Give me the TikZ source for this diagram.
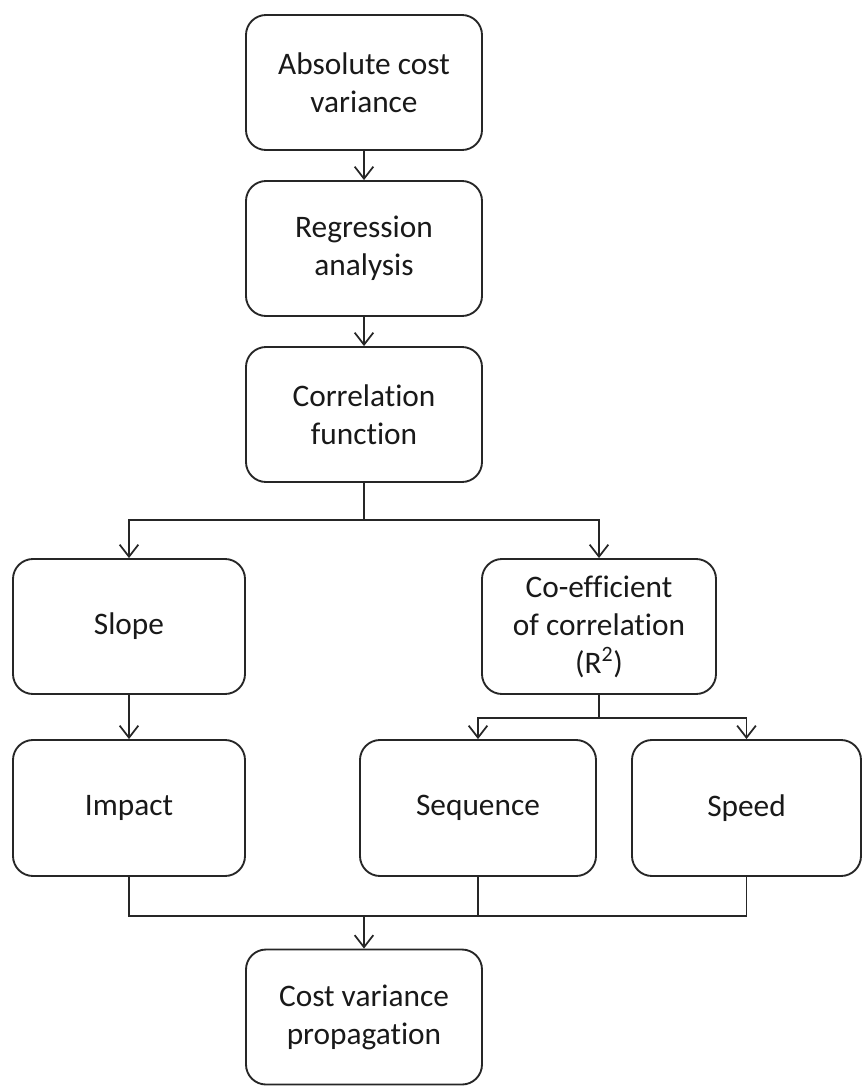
\documentclass[tikz,border=0pt]{standalone}
\usepackage{fontspec}
\setmainfont[Ligatures={NoCommon,NoContextual}]{Carlito}
\usetikzlibrary{arrows.meta}
\begin{document}
\begin{tikzpicture}[x=0.75pt,y=-0.75pt,
  box/.style={draw=black!85,line width=1.4pt,rounded corners=15pt,inner sep=0pt,
    align=center,text=black!90,font=\fontsize{23.5pt}{28.5pt}\selectfont},
  line/.style={draw=black!85,line width=1.4pt},
  arr/.style={line,-{Straight Barb[length=9pt,width=14pt,line width=1.3pt]}}]
\useasboundingbox (0,0) rectangle (863,1086);
\node[box,minimum width=177pt,minimum height=101.25pt] (b1) at (364,82.5) {Absolute cost\\variance};
\node[box,minimum width=177pt,minimum height=101.25pt] (b2) at (364,248.5) {Regression\\analysis};
\node[box,minimum width=177pt,minimum height=101.25pt] (b3) at (364,414.5) {Correlation\\function};
\node[box,minimum width=174pt,minimum height=101.25pt] (slope) at (129,626.5) {Slope};
\node[box,minimum width=175.5pt,minimum height=101.25pt] (coeff) at (599,626.5) {Co-efficient\\of correlation\\(R\textsuperscript{2})};
\node[box,minimum width=174pt,minimum height=102pt] (impact) at (129,808) {Impact};
\node[box,minimum width=177pt,minimum height=102pt] (seq) at (478,808) {Sequence};
\node[box,minimum width=171.75pt,minimum height=102pt] (speed) at (746.5,808) {Speed};
\node[box,minimum width=177pt,minimum height=101.25pt] (out) at (364,1017) {Cost variance\\propagation};
\draw[arr] (b1.south) -- (b2.north);
\draw[arr] (b2.south) -- (b3.north);
\coordinate (j1) at (364,520);
\draw[line] (b3.south) -- (j1);
\draw[arr] (j1) -| (slope.north);
\draw[arr] (j1) -| (coeff.north);
\draw[arr] (slope.south) -- (impact.north);
\coordinate (j2) at (599,718);
\draw[line] (coeff.south) -- (j2);
\draw[arr] (j2) -| (seq.north);
\draw[arr] (j2) -| (speed.north);
\coordinate (j3) at (364,916);
\draw[line] (impact.south) |- (j3);
\draw[line] (speed.south) |- (j3);
\draw[line] (seq.south) -- (seq.south |- j3);
\draw[arr] (j3) -- (out.north);
\end{tikzpicture}
\end{document}
